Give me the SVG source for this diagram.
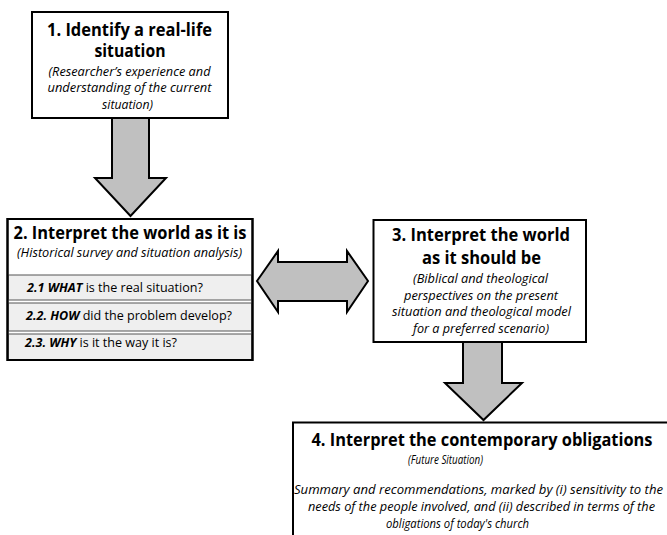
<svg xmlns="http://www.w3.org/2000/svg" width="667" height="535" viewBox="0 0 667 535">
<style>
.box{fill:#fff;stroke:#000;stroke-width:2}
.row{fill:#efefef;stroke:#555;stroke-width:1}
.arrow{fill:#c0c0c0;stroke:#000;stroke-width:2;stroke-linejoin:miter}
text{font-family:"Open Sans","Liberation Sans",sans-serif;fill:#000}
.t{font-weight:bold;font-size:17px}
.t4{font-weight:bold;font-size:18px}
.i{font-style:italic;font-size:13px}
.r{font-size:13px}
.bi{font-weight:bold;font-style:italic}
</style>
<rect width="667" height="535" fill="#fff"/>
<g id="connectors">
<polygon class="arrow" points="112,118 149,118 149,178 166,178 130.5,216 95,178 112,178"/>
<polygon class="arrow" points="257,281 278,251 278,262 347,262 347,251 368,281 347,312 347,301 278,301 278,312"/>
<polygon class="arrow" points="463,342 502,342 502,383 522,383 483.5,420 445,383 463,383"/>
</g>
<g id="node1">
<rect class="box" x="32" y="12" width="196" height="106"/>
<text class="t" x="47" y="36" textLength="165" lengthAdjust="spacingAndGlyphs">1. Identify a real-life</text>
<text class="t" x="94.5" y="57" textLength="71" lengthAdjust="spacingAndGlyphs">situation</text>
<text class="i" x="48.5" y="75.5" textLength="162" lengthAdjust="spacingAndGlyphs">(Researcher’s experience and</text>
<text class="i" x="47.5" y="92" textLength="164" lengthAdjust="spacingAndGlyphs">understanding  of the current</text>
<text class="i" x="102" y="108.5" textLength="51" lengthAdjust="spacingAndGlyphs">situation)</text>
</g>
<g id="node2">
<rect class="box" x="7.5" y="219" width="245" height="141"/>
<rect class="row" x="8.5" y="275" width="243" height="25"/>
<rect class="row" x="8.5" y="303" width="243" height="28"/>
<rect class="row" x="8.5" y="334" width="243" height="25.5"/>
<rect x="7.5" y="219" width="245" height="141" fill="none" stroke="#000" stroke-width="2"/>
<text class="t" x="13.5" y="238.5" textLength="233" lengthAdjust="spacingAndGlyphs">2. Interpret the world as it is</text>
<text class="i" x="17" y="257" textLength="225" lengthAdjust="spacingAndGlyphs">(Historical survey and situation analysis)</text>
<text class="r" x="27" y="292" textLength="176" lengthAdjust="spacingAndGlyphs"><tspan class="bi">2.1 WHAT</tspan> is the real situation?</text>
<text class="r" x="26" y="319.5" textLength="206" lengthAdjust="spacingAndGlyphs"><tspan class="bi">2.2. HOW</tspan> did the problem develop?</text>
<text class="r" x="25" y="347" textLength="152" lengthAdjust="spacingAndGlyphs"><tspan class="bi">2.3. WHY</tspan> is it the way it is?</text>
</g>
<g id="node3">
<rect class="box" x="373.5" y="220" width="212.5" height="122"/>
<text class="t" x="392" y="240.5" textLength="178" lengthAdjust="spacingAndGlyphs">3. Interpret the world</text>
<text class="t" x="422" y="263.5" textLength="119" lengthAdjust="spacingAndGlyphs">as it should be</text>
<text class="i" x="413" y="283" textLength="135" lengthAdjust="spacingAndGlyphs">(Biblical and theological</text>
<text class="i" x="404" y="299.5" textLength="154" lengthAdjust="spacingAndGlyphs">perspectives on the present</text>
<text class="i" x="392" y="316" textLength="179" lengthAdjust="spacingAndGlyphs">situation and theological model</text>
<text class="i" x="413" y="332.5" textLength="136" lengthAdjust="spacingAndGlyphs">for a preferred scenario)</text>
</g>
<g id="node4">
<rect class="box" x="293" y="422.5" width="420" height="140"/>
<text class="t4" x="311.5" y="446" textLength="341" lengthAdjust="spacingAndGlyphs">4. Interpret the contemporary obligations</text>
<text class="i" x="408" y="463.5" textLength="75" lengthAdjust="spacingAndGlyphs">(Future Situation)</text>
<text class="i" x="294" y="494" textLength="369" lengthAdjust="spacingAndGlyphs">Summary and recommendations, marked by (i) sensitivity to the</text>
<text class="i" x="308" y="511" textLength="347" lengthAdjust="spacingAndGlyphs">needs of the people involved, and (ii) described in terms of the</text>
<text class="i" x="386" y="528" textLength="143" lengthAdjust="spacingAndGlyphs">obligations of today's church</text>
</g>
</svg>
